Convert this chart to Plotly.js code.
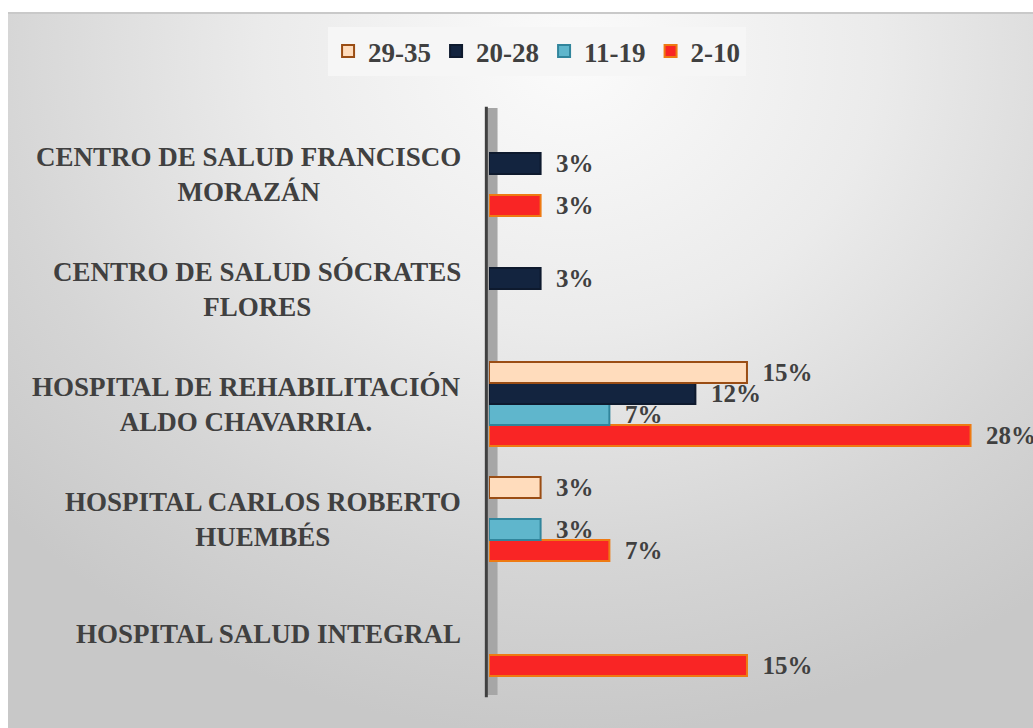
<!DOCTYPE html>
<html>
<head>
<meta charset="utf-8">
<script src="https://cdn.plot.ly/plotly-3.0.1.min.js"></script>
<style>
  html, body { margin: 0; padding: 0; background: #ffffff; }
  #bg { position: absolute; left: 8px; top: 12px; width: 1025px; height: 716px;
        border-top: 2px solid #c9c9c9; box-sizing: border-box;
        background: radial-gradient(ellipse 75% 95% at 55% 6%, #fbfbfb 0%, #ebebeb 40%, #d5d5d5 75%, #c8c8c8 100%); }
  #chart { position: absolute; left: 0; top: 0; width: 1033px; height: 728px; }
</style>
</head>
<body>
<div id="bg"></div>
<div id="chart"></div>
<script>
// Categories listed bottom-to-top (Plotly draws the first category at the bottom)
const categories = [
  "HOSPITAL SALUD INTEGRAL",
  "HOSPITAL CARLOS ROBERTO HUEMBÉS",
  "HOSPITAL DE REHABILITACIÓN ALDO CHAVARRIA.",
  "CENTRO DE SALUD SÓCRATES FLORES",
  "CENTRO DE SALUD FRANCISCO MORAZÁN"
];
const categoryLabels = [
  "HOSPITAL SALUD INTEGRAL",
  "HOSPITAL CARLOS ROBERTO<br>HUEMBÉS",
  "HOSPITAL DE REHABILITACIÓN<br>ALDO CHAVARRIA.",
  "CENTRO DE SALUD SÓCRATES<br>FLORES",
  "CENTRO DE SALUD FRANCISCO<br>MORAZÁN"
];
const seriesNames = ["2-10", "11-19", "20-28", "29-35"];
const values_2_10  = [15, 7, 28, null, 3];
const values_11_19 = [null, 3, 7, null, null];
const values_20_28 = [null, null, 12, 3, 3];
const values_29_35 = [null, 3, 15, null, null];

const seriesValues = [values_2_10, values_11_19, values_20_28, values_29_35];
const fills   = ["#f92525", "#5fb6cc", "#13243f", "#ffdcbc"];
const borders = ["#ee7a12", "#31859c", "#0e1a2e", "#9a4d14"];

const FONT = "Liberation Serif, Times New Roman, serif";
const textFont = { family: FONT, size: 25, color: "#404040", weight: "bold" };

const traces = seriesNames.map((name, i) => ({
  type: "bar",
  orientation: "h",
  name: name,
  y: categories,
  x: seriesValues[i],
  marker: { color: fills[i], line: { color: borders[i], width: 2 } },
  texttemplate: "\u00a0\u00a0%{x}%",
  textposition: "outside",
  constraintext: "none",
  cliponaxis: false,
  textfont: textFont,
  hoverinfo: "skip"
}));

const annotations = categories.map((c, i) => ({
  xref: "paper", yref: "y",
  x: 0, y: c,
  xanchor: "right", yanchor: "middle",
  xshift: -26,
  align: "center",
  showarrow: false,
  text: "<b>" + categoryLabels[i] + "</b>",
  font: { family: FONT, size: 27, color: "#404040" }
}));

const layout = {
  width: 1033, height: 728,
  margin: { l: 489, r: 10, t: 108, b: 33, pad: 0 },
  paper_bgcolor: "rgba(0,0,0,0)",
  plot_bgcolor: "rgba(0,0,0,0)",
  barmode: "group",
  bargap: 0.27,
  bargroupgap: 0,
  font: { family: FONT, color: "#404040" },
  xaxis: { range: [0, 31.05], showgrid: false, zeroline: false, showticklabels: false, showline: false, ticks: "" },
  yaxis: { type: "category", categoryorder: "array", categoryarray: categories,
           range: [-0.53, 4.574], showticklabels: false, showgrid: false, zeroline: false,
           showline: false, ticks: "" },
  showlegend: true,
  legend: {
    orientation: "h", traceorder: "reversed",
    x: 0.09, xanchor: "center", y: 1.138, yanchor: "top",
    bgcolor: "#f6f6f6",
    font: { family: FONT, size: 27, color: "#404040", weight: "bold" },
    itemwidth: 30
  },
  shapes: [
    { type: "rect", layer: "below", xref: "paper", yref: "paper", x0: -0.004, x1: 0.016, y0: 0, y1: 1,
      fillcolor: "#a6a6a6", line: { width: 0 } },
    { type: "line", layer: "above", xref: "paper", yref: "paper", x0: -0.005, x1: -0.005, y0: -0.004, y1: 1.002,
      line: { color: "#404040", width: 3 } }
  ],
  annotations: annotations
};

Plotly.newPlot("chart", traces, layout, { displayModeBar: false, staticPlot: true });
</script>
</body>
</html>
